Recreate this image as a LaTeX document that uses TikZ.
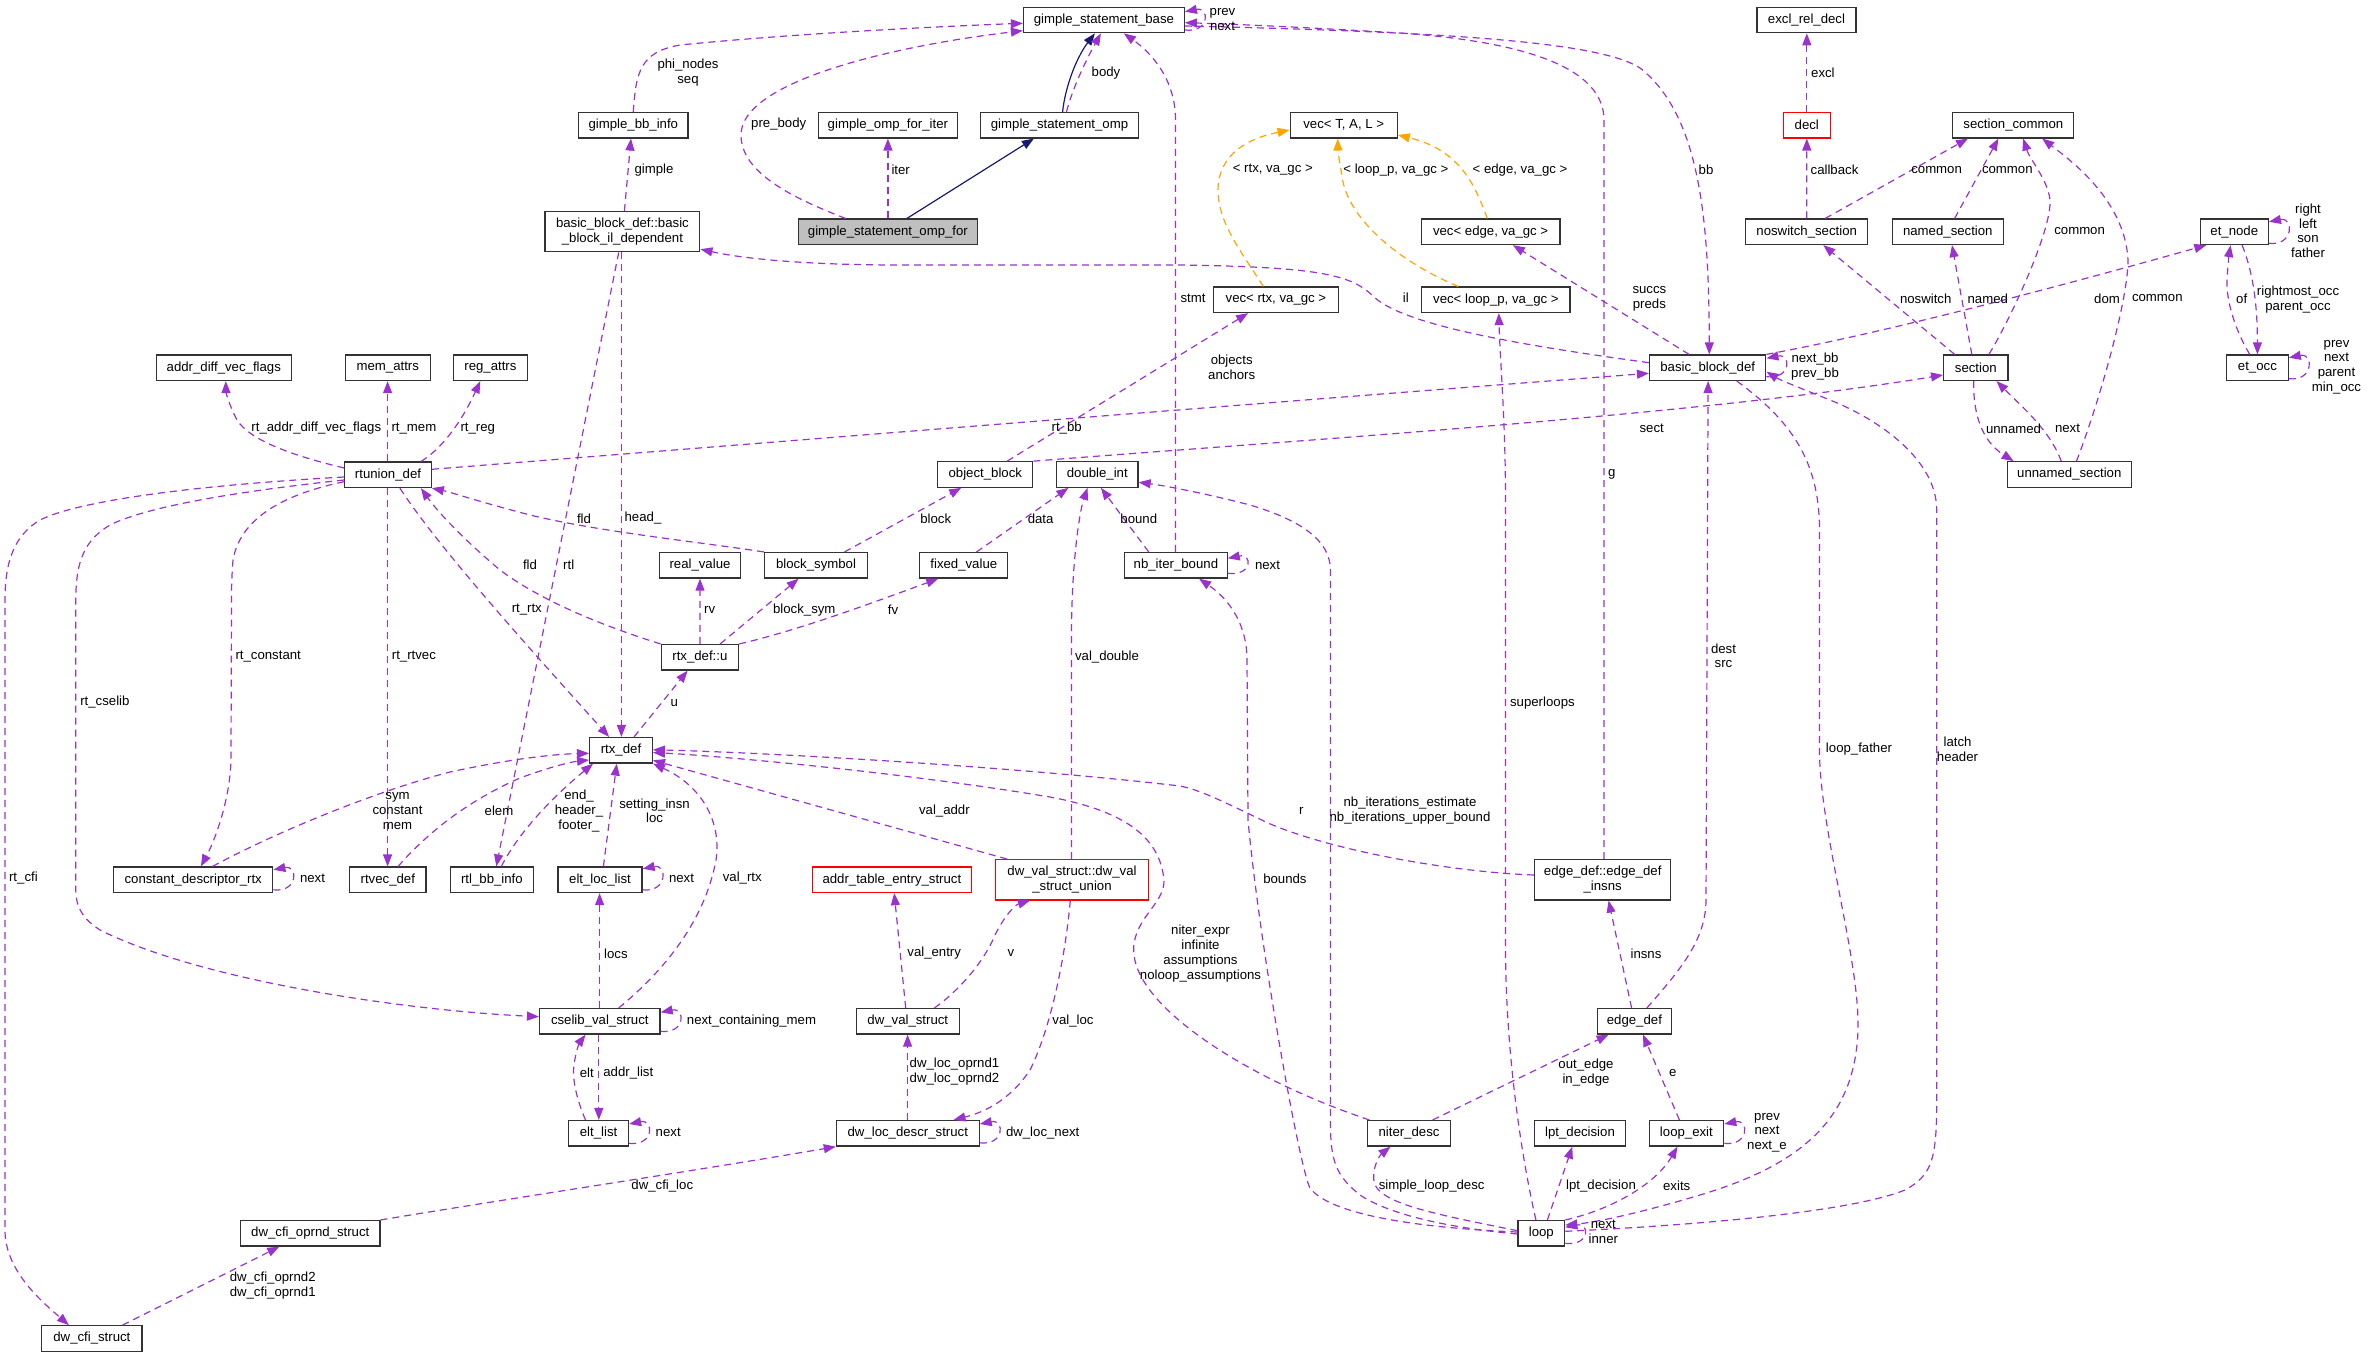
\documentclass[tikz,border=0pt]{standalone}
\usepackage{fontspec}
\setmainfont{Liberation Sans}
\usetikzlibrary{arrows.meta}
\definecolor{pur}{HTML}{9A32CD}
\definecolor{org}{HTML}{FFA500}
\definecolor{mblue}{HTML}{191970}
\begin{document}
\begin{tikzpicture}[x=1pt,y=-1pt,
 cls/.style={draw=black!80, line width=1.2pt, fill=white, inner sep=0pt, minimum height=25.5pt, font=\fontsize{13.2}{15}\selectfont, align=center},
 cls2/.style={cls, minimum height=40.3pt},
 redc/.style={draw=red},
 lbl/.style={font=\fontsize{13.2}{14.8}\selectfont, align=center, inner sep=0pt},
 edg/.style={draw=pur, line width=1.2pt, dash pattern=on 7pt off 5pt, -{Triangle[length=12pt,width=9pt]}},
 edgo/.style={edg, draw=org},
 inhe/.style={draw=mblue, line width=1.2pt, solid, -{Triangle[length=12pt,width=9pt]}},
]
\useasboundingbox (0,0) rectangle (2367,1357);
% ---------------- nodes
\node[cls, minimum width=160.8pt] (gsb) at (1103.9,20) {gimple\_statement\_base};
\node[cls, minimum width=99pt] (excl) at (1806.5,20) {excl\_rel\_decl};
\node[cls, minimum width=109.4pt] (gbb) at (633.3,125.2) {gimple\_bb\_info};
\node[cls, minimum width=138.9pt] (gofi) at (887.9,125.2) {gimple\_omp\_for\_iter};
\node[cls, minimum width=157.7pt] (gso) at (1059.5,125.2) {gimple\_statement\_omp};
\node[cls, minimum width=107.1pt] (vecT) at (1343.7,125.2) {vec< T, A, L >};
\node[cls, redc, minimum width=46.9pt] (decl) at (1806.8,125.2) {decl};
\node[cls, minimum width=121.1pt] (secc) at (2013.3,125.2) {section\_common};
\node[cls2, minimum width=154.9pt] (bbil) at (622.4,231.7) {basic\_block\_def::basic\\\_block\_il\_dependent};
\node[cls, fill=gray!50, minimum width=178.7pt] (gsof) at (887.9,231.8) {gimple\_statement\_omp\_for};
\node[cls, minimum width=138.9pt] (vecE) at (1490.6,231.8) {vec< edge, va\_gc >};
\node[cls, minimum width=122.2pt] (nosw) at (1806.7,231.8) {noswitch\_section};
\node[cls, minimum width=111.2pt] (named) at (1947.8,231.8) {named\_section};
\node[cls, minimum width=68.2pt] (etn) at (2234.3,231.8) {et\_node};
\node[cls, minimum width=134.7pt] (adv) at (223.8,367.8) {addr\_diff\_vec\_flags};
\node[cls, minimum width=84.6pt] (mema) at (387.8,367.8) {mem\_attrs};
\node[cls, minimum width=73.9pt] (rega) at (490.4,367.8) {reg\_attrs};
\node[cls, minimum width=125.1pt] (vecR) at (1275.9,299.8) {vec< rtx, va\_gc >};
\node[cls, minimum width=148.1pt] (vecL) at (1495.9,299.8) {vec< loop\_p, va\_gc >};
\node[cls, minimum width=116.3pt] (bbd) at (1707.7,367.7) {basic\_block\_def};
\node[cls, minimum width=64.4pt] (sec) at (1975.8,367.7) {section};
\node[cls, minimum width=61.7pt] (eto) at (2257.4,367.7) {et\_occ};
\node[cls, minimum width=86.5pt] (rtu) at (388,474.8) {rtunion\_def};
\node[cls, minimum width=94.9pt] (ob) at (985.3,474.5) {object\_block};
\node[cls, minimum width=81.5pt] (di) at (1097.3,474.5) {double\_int};
\node[cls, minimum width=124.1pt] (uns) at (2069.3,474.5) {unnamed\_section};
\node[cls, minimum width=81.5pt] (rv) at (700,565.3) {real\_value};
\node[cls, minimum width=102.9pt] (bs) at (816,565.3) {block\_symbol};
\node[cls, minimum width=88pt] (fv) at (963.8,565.3) {fixed\_value};
\node[cls, minimum width=102.5pt] (nib) at (1175.9,565.3) {nb\_iter\_bound};
\node[cls, minimum width=77.3pt] (rtxu) at (699.9,657.3) {rtx\_def::u};
\node[cls, minimum width=62.7pt] (rtx) at (621,750.3) {rtx\_def};
\node[cls, minimum width=159.2pt] (cdr) at (193.2,879.8) {constant\_descriptor\_rtx};
\node[cls, minimum width=76.2pt] (rtv) at (387.8,879.8) {rtvec\_def};
\node[cls, minimum width=83pt] (rbb) at (491.9,879.8) {rtl\_bb\_info};
\node[cls, minimum width=84.1pt] (ell) at (600,879.8) {elt\_loc\_list};
\node[cls, redc, minimum width=159.2pt] (ate) at (891.9,879.8) {addr\_table\_entry\_struct};
\node[cls2, redc, minimum width=152.7pt] (dvu) at (1072,879.8) {dw\_val\_struct::dw\_val\\\_struct\_union};
\node[cls2, minimum width=135.9pt] (edi) at (1602.7,879.8) {edge\_def::edge\_def\\\_insns};
\node[cls, minimum width=120.5pt] (csv) at (599.8,1021.3) {cselib\_val\_struct};
\node[cls, minimum width=103pt] (dvs) at (907.8,1021.3) {dw\_val\_struct};
\node[cls, minimum width=74.6pt] (ed) at (1634.4,1021.3) {edge\_def};
\node[cls, minimum width=60pt] (el) at (598.6,1133.3) {elt\_list};
\node[cls, minimum width=142.8pt] (dld) at (907.8,1133.3) {dw\_loc\_descr\_struct};
\node[cls, minimum width=83pt] (nd) at (1409,1133.3) {niter\_desc};
\node[cls, minimum width=90.7pt] (lpt) at (1580,1133.3) {lpt\_decision};
\node[cls, minimum width=74.6pt] (lex) at (1686.4,1133.3) {loop\_exit};
\node[cls, minimum width=139.3pt] (dco) at (310.3,1233.3) {dw\_cfi\_oprnd\_struct};
\node[cls, minimum width=46.7pt] (loop) at (1541.3,1233.3) {loop};
\node[cls, minimum width=100.3pt] (dcs) at (91.9,1338.5) {dw\_cfi\_struct};
% ---------------- edges
\draw[inhe] ([xshift=3.1pt]gso.north) .. controls (1065,88) and (1076,58) .. ([xshift=-9pt]gsb.south);
\draw[edg] ([xshift=7pt]gso.north) .. controls (1072,90) and (1085,62) .. ([xshift=-3pt]gsb.south);
\draw[inhe] ([xshift=19pt]gsof.north) -- ([xshift=-25.6pt]gso.south);
\draw[edg] (gsof.north) -- (gofi.south);
\draw[edg] ([xshift=-42.3pt]gsof.north) .. controls (790,197) and (741,172) .. (741,135) .. controls (741,80) and (900,45) .. ([yshift=-10.7pt]gsb.west);
\draw[edg] (gbb.north) .. controls (636,72) and (640,52) .. (680,45) .. controls (800,33) and (950,26) .. ([yshift=-3.3pt]gsb.west);
\draw[edg] ([xshift=2pt]bbil.north) -- ([xshift=-2.3pt]gbb.south);
\draw[edg] ([yshift=5pt]bbd.west) .. controls (1520,345) and (1400,325) .. (1372,295) .. controls (1350,275) and (1320,267) .. (1180,265) -- (900,265) .. controls (800,265) and (740,258) .. ([yshift=-17.5pt]bbil.east);
\draw[edg] ([yshift=-6pt]gsb.east) .. controls (1450,32) and (1600,42) .. (1640,68) .. controls (1700,115) and (1709,220) .. ([xshift=1.6pt]bbd.north);
\draw[edg] ([yshift=-10pt]gsb.east) .. controls +(25,3) and +(25,-5) .. ([yshift=8.3pt]gsb.east);
\draw[edg] ([xshift=-0.4pt]nib.north) -- (1175.5,120) .. controls (1175.5,78) and (1150,52) .. ([xshift=19.9pt]gsb.south);
\draw[edgo] ([xshift=-12.5pt]vecR.north) .. controls (1240,250) and (1218,222) .. (1218,190) .. controls (1218,160) and (1240,140) .. ([yshift=-4.8pt]vecT.west);
\draw[edgo] ([xshift=-37.7pt]vecL.north) .. controls (1400,262) and (1352,222) .. (1343,182) .. controls (1340,165) and (1338,152) .. ([xshift=-6pt]vecT.south);
\draw[edgo] ([xshift=-3.3pt]vecE.north) .. controls (1475,185) and (1460,150) .. ([yshift=-9.8pt]vecT.east);
\draw[edg] ([xshift=-18.7pt]bbd.north) -- ([xshift=22.3pt]vecE.south);
\draw[edg] ([xshift=21.8pt]ob.north) -- ([xshift=-27.8pt]vecR.south);
\draw[edg] (bbd.north east) .. controls (1900,330) and (2100,275) .. ([xshift=-28pt]etn.south);
\draw[edg] ([yshift=-9pt]bbd.east) .. controls +(25,3) and +(25,-5) .. ([yshift=9.4pt]bbd.east);
\draw[edg] ([yshift=2pt]loop.east) .. controls (1700,1225) and (1850,1212) .. (1905,1190) .. controls (1932,1175) and (1936.7,1160) .. (1936.7,1100) -- (1936.7,510) .. controls (1936.7,460) and (1880,420) .. (1830,400) .. controls (1800,388) and (1780,380) .. ([yshift=-4pt]bbd.east);
\draw[edg] ([xshift=29.1pt]bbd.south) .. controls (1790,420) and (1819.5,460) .. (1819.5,530) -- (1819.5,750) .. controls (1819.5,830) and (1860,960) .. (1858,1030) .. controls (1855,1120) and (1800,1165) .. (1700,1195) .. controls (1650,1210) and (1600,1222) .. ([yshift=8.3pt]loop.east);
\draw[edg] ([xshift=12.5pt]ed.north) .. controls (1680,970) and (1706,940) .. (1706,900) -- ([xshift=0.4pt]bbd.south);
\draw[edg] ([xshift=1.3pt]edi.north) -- (1604,120) .. controls (1604,60) and (1500,40) .. (1400,33) .. controls (1300,27) and (1230,24) .. ([yshift=-2.7pt]gsb.east);
\draw[edg] ([xshift=-2.8pt]ed.north) -- ([xshift=5.9pt]edi.south);
\draw[edg] ([xshift=23.6pt]nd.north) -- ([xshift=-25.8pt]ed.south);
\draw[edg] ([xshift=-7pt]lex.north) -- ([xshift=8.6pt]ed.south);
\draw[edg] ([yshift=-10pt]lex.east) .. controls +(25,3) and +(25,-5) .. ([yshift=9.3pt]lex.east);
\draw[edg] (loop.north east) .. controls (1610,1210) and (1655,1185) .. ([xshift=-8.9pt]lex.south);
\draw[edg] ([xshift=6.1pt]loop.north) -- ([xshift=-7.7pt]lpt.south);
\draw[edg] ([yshift=2.6pt]loop.west) .. controls (1440,1215) and (1385,1205) .. (1375,1185) .. controls (1370,1170) and (1380,1155) .. ([xshift=-18.5pt]nd.south);
\draw[edg] ([yshift=-10pt]loop.east) .. controls +(25,3) and +(25,-5) .. ([yshift=6pt]loop.east);
\draw[edg] ([xshift=-5.4pt]loop.north) .. controls (1520,1150) and (1506,1050) .. (1505.5,950) -- (1505.5,500) .. controls (1505.5,420) and (1500,360) .. ([xshift=2.9pt]vecL.south);
\draw[edg] ([yshift=1.3pt]loop.west) .. controls (1420,1228) and (1330,1215) .. (1310,1188) .. controls (1300,1170) and (1260,950) .. (1248,820) -- (1247,660) .. controls (1247,625) and (1230,600) .. ([xshift=23.2pt]nib.south);
\draw[edg] ([yshift=-0.7pt]loop.west) .. controls (1450,1228) and (1390,1215) .. (1360,1195) .. controls (1335,1175) and (1330.4,1160) .. (1330.4,1120) -- (1330.4,570) .. controls (1330.4,540) and (1300,520) .. (1250,505) .. controls (1200,492) and (1160,485) .. ([yshift=-7.8pt]di.east);
\draw[edg] ([xshift=2.5pt]nd.north west) .. controls (1250,1080) and (1140,1010) .. (1134,955) .. controls (1130,920) and (1165,905) .. (1164,880) .. controls (1160,840) and (1130,812) .. (1050,797) .. controls (900,772) and (720,756) .. ([yshift=-2.2pt]rtx.east);
\draw[edg] ([yshift=4.8pt]edi.west) .. controls (1450,872) and (1330,850) .. (1268,823) .. controls (1220,800) and (1200,790) .. (1180,786) .. controls (1000,765) and (750,752) .. ([yshift=0.5pt]rtx.east);
\draw[edg] ([xshift=-64.9pt]dvu.north) -- ([yshift=-10pt]rtx.east);
\draw[edg] ([xshift=-0.6pt]dvu.north) -- (1071.4,640) .. controls (1071.4,560) and (1080,510) .. ([xshift=-9.8pt]di.south);
\draw[edg] ([xshift=-27.2pt]nib.north) -- ([xshift=3.6pt]di.south);
\draw[edg] ([yshift=-8pt]nib.east) .. controls +(25,3) and +(25,-5) .. ([yshift=7pt]nib.east);
\draw[edg] ([xshift=12.7pt]fv.north) -- ([xshift=-28.9pt]di.south);
\draw[edg] ([xshift=28.5pt]bs.north) -- ([xshift=-24.1pt]ob.south);
\draw[edg] (bs.north west) .. controls (700,542) and (600,532) .. (530,515) .. controls (480,502) and (450,492) .. (rtu.south east);
\draw[edg] (rtxu.north west) .. controls (600,625) and (540,600) .. (500,570) .. controls (470,545) and (440,515) .. ([xshift=32.9pt]rtu.south);
\draw[edg] (rtxu.north) -- (rv.south);
\draw[edg] ([xshift=20.2pt]rtxu.north) -- ([xshift=-17.4pt]bs.south);
\draw[edg] (rtxu.north east) .. controls (800,630) and (880,600) .. ([xshift=-25.5pt]fv.south);
\draw[edg] ([xshift=13pt]rtx.north) -- ([xshift=-12.3pt]rtxu.south);
\draw[edg] ([xshift=11.9pt]rtu.south) .. controls (440,550) and (540,660) .. ([xshift=-11.9pt]rtx.north);
\draw[edg] ([xshift=-1pt]bbil.south) -- ([xshift=0.4pt]rtx.north);
\draw[edg] ([xshift=-3.7pt]bbil.south) -- ([xshift=4.4pt]rbb.north);
\draw[edg] ([xshift=9.4pt]rbb.north) .. controls (520,830) and (555,795) .. ([xshift=-27.9pt]rtx.south);
\draw[edg] ([xshift=10.2pt]rtv.north) .. controls (430,830) and (470,800) .. (520,778) .. controls (550,767) and (570,762) .. ([yshift=-9.7pt]rtx.west);
\draw[edg] ([xshift=19.2pt]cdr.north) .. controls (280,830) and (380,790) .. (450,772) .. controls (520,757) and (560,754) .. ([yshift=-3pt]rtx.west);
\draw[edg] ([yshift=-10pt]cdr.east) .. controls +(25,3) and +(25,-5) .. ([yshift=10pt]cdr.east);
\draw[edg] ([yshift=-6.9pt]rtu.west) .. controls (280,495) and (240,520) .. (233,560) .. controls (231.5,580) and (231.5,590) .. (231.5,600) -- (231,760) .. controls (230,800) and (215,840) .. ([xshift=7.7pt]cdr.north);
\draw[edg] ([xshift=-0.4pt]rtu.south) -- ([xshift=-0.2pt]rtv.north);
\draw[edg] ([yshift=-5.2pt]rtu.west) .. controls (250,490) and (150,505) .. (110,525) .. controls (85,540) and (75.8,560) .. (75.8,600) -- (75.8,890) .. controls (76,910) and (85,920) .. (100,930) .. controls (200,980) and (400,1010) .. ([yshift=4.6pt]csv.west);
\draw[edg] ([yshift=-2.2pt]rtu.west) .. controls (200,485) and (80,500) .. (40,520) .. controls (15,535) and (5,560) .. (5,600) -- (5,1230) .. controls (5,1270) and (40,1300) .. ([xshift=-23pt]dcs.north);
\draw[edg] ([yshift=6.8pt]rtu.west) .. controls (290,455) and (250,440) .. (237,420) .. controls (229,405) and (226,392) .. ([xshift=2pt]adv.south);
\draw[edg] ([xshift=-0.4pt]rtu.north) -- ([xshift=-0.2pt]mema.south);
\draw[edg] ([xshift=32.9pt]rtu.north) .. controls (440,450) and (460,425) .. ([xshift=-10.1pt]rega.south);
\draw[edg] ([yshift=5.5pt]rtu.east) .. controls (800,440) and (1300,400) .. ([yshift=-5.6pt]bbd.west);
\draw[edg] (ob.north east) .. controls (1300,440) and (1700,415) .. ([yshift=-7.3pt]sec.west);
\draw[edg] ([xshift=13.1pt]sec.north) .. controls (2010,320) and (2052,230) .. (2050,200) .. controls (2048,180) and (2030,160) .. ([xshift=9.9pt]secc.south);
\draw[edg] ([xshift=-4pt]sec.north) -- ([xshift=4.2pt]named.south);
\draw[edg] ([xshift=-21.2pt]sec.north) -- ([xshift=16.6pt]nosw.south);
\draw[edg] ([xshift=18.5pt]nosw.north) -- ([xshift=-45.3pt]secc.south);
\draw[edg] ([xshift=6.8pt]named.north) -- ([xshift=-14.9pt]secc.south);
\draw[edg] ([xshift=7.2pt]uns.north) .. controls (2100,400) and (2128,300) .. (2128,260) .. controls (2125,200) and (2070,160) .. ([xshift=28.9pt]secc.south);
\draw[edg] (nosw.north) -- (decl.south);
\draw[edg] (decl.north) -- ([xshift=0.3pt]excl.south);
\draw[edg] ([xshift=-2.1pt]sec.south) .. controls (1973,410) and (1980,440) .. ([xshift=-55.7pt]uns.north);
\draw[edg] ([xshift=-8.1pt]uns.north) .. controls (2050,430) and (2020,405) .. ([xshift=20.7pt]sec.south);
\draw[edg] ([yshift=-11.5pt]etn.east) .. controls +(25,3) and +(25,-5) .. ([yshift=10pt]etn.east);
\draw[edg] ([xshift=-7.7pt]eto.north) .. controls (2235,330) and (2226,300) .. (2227,280) .. controls (2228,265) and (2229,255) .. ([xshift=-3.7pt]etn.south);
\draw[edg] ([xshift=7.8pt]etn.south) .. controls (2252,270) and (2257.4,300) .. (eto.north);
\draw[edg] ([yshift=-11pt]eto.east) .. controls +(25,3) and +(25,-5) .. ([yshift=10pt]eto.east);
\draw[edg] ([xshift=3.4pt]ell.north) -- ([xshift=-4.2pt]rtx.south);
\draw[edg] ([yshift=-10pt]ell.east) .. controls +(25,3) and +(25,-5) .. ([yshift=11pt]ell.east);
\draw[edg] ([xshift=-0.2pt]csv.north) -- ([xshift=-0.4pt]ell.south);
\draw[edg] ([xshift=18.9pt]csv.north) .. controls (665,970) and (705,920) .. (716,860) .. controls (722,820) and (700,785) .. (rtx.south east);
\draw[edg] ([yshift=-10pt]csv.east) .. controls +(25,3) and +(25,-5) .. ([yshift=9pt]csv.east);
\draw[edg] ([xshift=-1pt]csv.south) -- ([xshift=0.2pt]el.north);
\draw[edg] ([xshift=-13.1pt]el.north) .. controls (577,1100) and (572,1080) .. (574,1065) .. controls (576,1050) and (580,1042) .. ([xshift=-14.3pt]csv.south);
\draw[edg] ([yshift=-10pt]el.east) .. controls +(25,3) and +(25,-5) .. ([yshift=9.3pt]el.east);
\draw[edg] ([xshift=-2.1pt]dvs.north) -- ([xshift=2.3pt]ate.south);
\draw[edg] ([xshift=26.6pt]dvs.north) .. controls (960,990) and (985,960) .. (995,935) .. controls (1005,915) and (1015,905) .. ([xshift=-42pt]dvu.south);
\draw[edg] ([xshift=-1.7pt]dvu.south) .. controls (1065,960) and (1050,1030) .. (1030,1070) .. controls (1010,1100) and (985,1112) .. ([xshift=45.7pt]dld.north);
\draw[edg] ([xshift=-0.2pt]dld.north) -- ([xshift=-0.2pt]dvs.south);
\draw[edg] ([yshift=-9.5pt]dld.east) .. controls +(25,3) and +(25,-5) .. ([yshift=9.3pt]dld.east);
\draw[edg] (dco.north east) .. controls (500,1200) and (700,1170) .. (dld.south west);
\draw[edg] ([xshift=30.6pt]dcs.north) -- ([xshift=-31pt]dco.south);
% ---------------- labels
\node[lbl] (l1) at (1106,72.7) {body};
\node[lbl] (l2) at (900.7,169.3) {iter};
\node[lbl] (l3) at (778.7,124.3) {pre\_body};
\node[lbl] (l4) at (688,72.3) {phi\_nodes\\seq};
\node[lbl] (l5) at (654,170) {gimple};
\node[lbl] (l6) at (1405.8,297.7) {il};
\node[lbl] (l7) at (1706,170) {bb};
\node[lbl] (l8) at (1222.5,19.2) {prev\\next};
\node[lbl] (l9) at (1193,298.3) {stmt};
\node[lbl] (l10) at (1272.8,170) {< rtx, va\_gc >};
\node[lbl] (l11) at (1395.9,170) {< loop\_p, va\_gc >};
\node[lbl] (l12) at (1520,170) {< edge, va\_gc >};
\node[lbl] (l13) at (1649.4,299.2) {succs\\preds};
\node[lbl] (l14) at (1231.7,367) {objects\\anchors};
\node[lbl] (l15) at (2107,298.3) {dom};
\node[lbl] (l16) at (1815,366.8) {next\_bb\\prev\_bb};
\node[lbl] (l17) at (1957.5,749.5) {latch\\header};
\node[lbl] (l18) at (1859,749.3) {loop\_father};
\node[lbl] (l19) at (1723.5,655.8) {dest\\src};
\node[lbl] (l20) at (1611.7,474.3) {g};
\node[lbl] (l21) at (1646,953.3) {insns};
\node[lbl] (l22) at (1586,1072.5) {out\_edge\\in\_edge};
\node[lbl] (l23) at (1672.9,1072.7) {e};
\node[lbl] (l24) at (1767,1132.7) {prev\\next\\next\_e};
\node[lbl] (l25) at (1676.7,1185.7) {exits};
\node[lbl] (l26) at (1601,1185.7) {lpt\_decision};
\node[lbl] (l27) at (1431.7,1185.7) {simple\_loop\_desc};
\node[lbl] (l28) at (1603.3,1231.8) {next\\inner};
\node[lbl] (l29) at (1542.4,702.7) {superloops};
\node[lbl] (l30) at (1284.9,878.3) {bounds};
\node[lbl] (l31) at (1410,810.8) {nb\_iterations\_estimate\\nb\_iterations\_upper\_bound};
\node[lbl] (l32) at (1200.5,953.7) {niter\_expr\\infinite\\assumptions\\noloop\_assumptions};
\node[lbl] (l33) at (1301.3,810.7) {r};
\node[lbl] (l34) at (944.4,810.7) {val\_addr};
\node[lbl] (l35) at (1107,656.7) {val\_double};
\node[lbl] (l36) at (1138.8,518.3) {bound};
\node[lbl] (l37) at (1267.5,565) {next};
\node[lbl] (l38) at (1040.6,518.3) {data};
\node[lbl] (l39) at (935.7,518.3) {block};
\node[lbl] (l40) at (584,518.3) {fld};
\node[lbl] (l41) at (530,564.3) {fld};
\node[lbl] (l42) at (709.6,610) {rv};
\node[lbl] (l43) at (804.3,610) {block\_sym};
\node[lbl] (l44) at (893,610) {fv};
\node[lbl] (l45) at (674.2,703.3) {u};
\node[lbl] (l46) at (526.8,610) {rt\_rtx};
\node[lbl] (l47) at (643,518.3) {head\_};
\node[lbl] (l48) at (568.7,564.3) {rtl};
\node[lbl] (l49) at (579,811) {end\_\\header\_\\footer\_};
\node[lbl] (l50) at (499,810.7) {elem};
\node[lbl] (l51) at (397.5,811) {sym\\constant\\mem};
\node[lbl] (l52) at (268.2,656.7) {rt\_constant};
\node[lbl] (l53) at (413.9,656.7) {rt\_rtvec};
\node[lbl] (l54) at (104.9,702.3) {rt\_cselib};
\node[lbl] (l55) at (23.4,878.3) {rt\_cfi};
\node[lbl] (l56) at (316.3,428.3) {rt\_addr\_diff\_vec\_flags};
\node[lbl] (l57) at (413.9,428.3) {rt\_mem};
\node[lbl] (l58) at (477.8,428.3) {rt\_reg};
\node[lbl] (l59) at (1066.7,428.3) {rt\_bb};
\node[lbl] (l60) at (1651.7,428.3) {sect};
\node[lbl] (l61) at (2079.6,231) {common};
\node[lbl] (l62) at (1987.8,298.3) {named};
\node[lbl] (l63) at (1925.7,298.3) {noswitch};
\node[lbl] (l64) at (1936.6,170) {common};
\node[lbl] (l65) at (2007.3,170) {common};
\node[lbl] (l66) at (2157.3,298.3) {common};
\node[lbl] (l67) at (1834.5,170) {callback};
\node[lbl] (l68) at (1822.9,72.7) {excl};
\node[lbl] (l69) at (2013.5,428.3) {unnamed};
\node[lbl] (l70) at (2067.5,428.3) {next};
\node[lbl] (l71) at (2308,230.8) {right\\left\\son\\father};
\node[lbl] (l72) at (2241.7,298.3) {of};
\node[lbl] (l73) at (2298,299.2) {rightmost\_occ\\parent\_occ};
\node[lbl] (l74) at (2336.5,367) {prev\\next\\parent\\min\_occ};
\node[lbl] (l75) at (654.5,810.8) {setting\_insn\\loc};
\node[lbl] (l76) at (681.5,878.3) {next};
\node[lbl] (l77) at (615.9,953.3) {locs};
\node[lbl] (l78) at (742.3,878.3) {val\_rtx};
\node[lbl] (l79) at (751.5,1020.7) {next\_containing\_mem};
\node[lbl] (l80) at (628.3,1072.7) {addr\_list};
\node[lbl] (l81) at (586.8,1072.7) {elt};
\node[lbl] (l82) at (668.2,1132.7) {next};
\node[lbl] (l83) at (934.2,953.3) {val\_entry};
\node[lbl] (l84) at (1011,953.3) {v};
\node[lbl] (l85) at (1073,1020.7) {val\_loc};
\node[lbl] (l86) at (954.5,1071.8) {dw\_loc\_oprnd1\\dw\_loc\_oprnd2};
\node[lbl] (l87) at (1042.7,1132.7) {dw\_loc\_next};
\node[lbl] (l88) at (662.3,1185.7) {dw\_cfi\_loc};
\node[lbl] (l89) at (272.7,1285.8) {dw\_cfi\_oprnd2\\dw\_cfi\_oprnd1};
\node[lbl] (l90) at (312.5,878.3) {next};
\end{tikzpicture}
\end{document}
